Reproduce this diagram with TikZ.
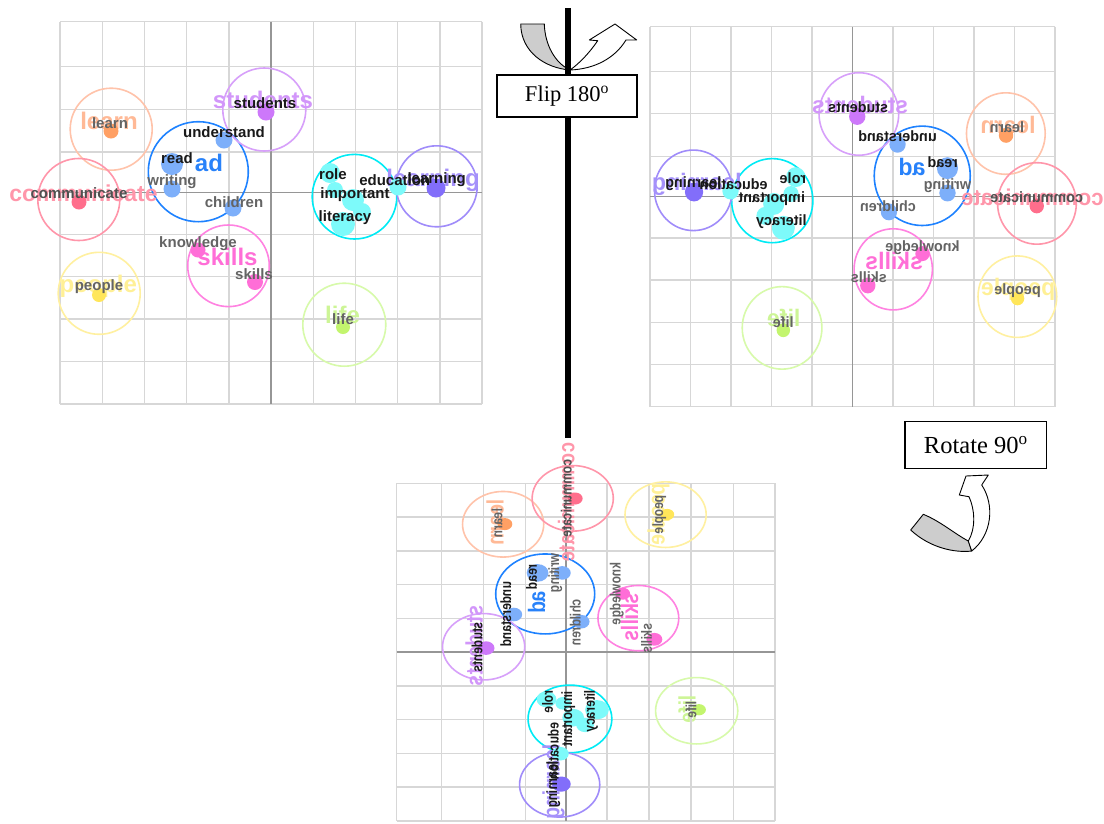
\documentclass[tikz,border=0pt]{standalone}
\usepackage{fontspec}
\setmainfont{Liberation Serif}
\newfontfamily\mapfont{Liberation Sans}
\definecolor{gridgray}{RGB}{215,215,215}
\definecolor{axisgray}{RGB}{150,150,150}
\definecolor{arrowgray}{RGB}{205,205,205}
\definecolor{learnC}{RGB}{255,195,170}
\definecolor{learnDot}{RGB}{255,160,100}
\definecolor{learnBig}{RGB}{255,185,150}
\definecolor{commC}{RGB}{255,150,170}
\definecolor{commDot}{RGB}{255,110,140}
\definecolor{commBig}{RGB}{255,150,170}
\definecolor{peopleC}{RGB}{255,240,160}
\definecolor{peopleDot}{RGB}{255,230,90}
\definecolor{peopleBig}{RGB}{255,240,150}
\definecolor{readC}{RGB}{30,130,255}
\definecolor{blueDot}{RGB}{125,175,250}
\definecolor{adBig}{RGB}{40,130,250}
\definecolor{studC}{RGB}{215,160,250}
\definecolor{studDot}{RGB}{205,120,250}
\definecolor{studBig}{RGB}{210,150,250}
\definecolor{cyanC}{RGB}{0,235,245}
\definecolor{cyanDot}{RGB}{125,250,250}
\definecolor{lrnC}{RGB}{160,140,250}
\definecolor{lrnDot}{RGB}{130,110,250}
\definecolor{lrnBig}{RGB}{165,145,250}
\definecolor{skillC}{RGB}{255,130,225}
\definecolor{skillDot}{RGB}{255,110,215}
\definecolor{skillBig}{RGB}{255,110,215}
\definecolor{lifeC}{RGB}{215,250,170}
\definecolor{lifeDot}{RGB}{195,245,110}
\definecolor{lifeBig}{RGB}{205,245,150}
\definecolor{wgray}{RGB}{100,100,100}
\definecolor{wblack}{RGB}{25,25,25}
\tikzset{
  gridln/.style={draw=gridgray, line width=1.4},
  axisln/.style={draw=axisgray, line width=1.4},
  ring/.style={line width=1.6},
  biglab/.style={font=\mapfont\bfseries\fontsize{24}{24}\selectfont, inner sep=0pt},
  smalllab/.style={font=\mapfont\bfseries\fontsize{15}{15}\selectfont, inner sep=0pt},
  labelbox/.style={draw=black, fill=white, line width=1.1, inner sep=0pt},
  arrowshape/.style={draw=black, line width=0.9, line join=round},
}
\newcommand{\drawmapbody}{%
  % grid
  \foreach \i in {0,1,2,3,4,6,7,8,9,10} {\draw[gridln] (42.2*\i,0) -- (42.2*\i,382.3);}
  \foreach \v in {0,45,87.6,130.3,212.6,255,297.3,340,382.3} {\draw[gridln] (0,\v) -- (422,\v);}
  \draw[axisln] (211,0) -- (211,382.3);
  \draw[axisln] (0,171) -- (422,171);
  % rings
  \draw[ring, learnC] (51.2,107.5) circle[radius=41pt];
  \draw[ring, commC] (18.8,177.8) circle[radius=41pt];
  \draw[ring, peopleC] (39.2,271.6) circle[radius=41pt];
  \draw[ring, readC] (138.3,150) circle[radius=50pt];
  \draw[ring, studC] (204.3,87.8) circle[radius=41.5pt];
  \draw[ring, cyanC] (294.5,175) circle[radius=42.3pt];
  \draw[ring, lrnC] (376.7,164.6) circle[radius=40.5pt];
  \draw[ring, skillC] (168.5,244.1) circle[radius=40.8pt];
  \draw[ring, lifeC] (284.3,303) circle[radius=41.5pt];
  % big labels
  \node[biglab, text=learnBig] (bl-learn) at (49,99.3) {learn};
  \node[biglab, text=commBig, font=\mapfont\bfseries\fontsize{23}{23}\selectfont] (bl-comm) at (23.5,171.3) {communicate};
  \node[biglab, text=peopleBig] (bl-people) at (38.3,264.3) {people};
  \node[biglab, text=adBig] (bl-ad) at (149,141.3) {ad};
  \node[biglab, text=studBig] (bl-stud) at (203,78.3) {students};
  \node[biglab, text=skillBig] (bl-skills) at (167.5,235.3) {skills};
  \node[biglab, text=lifeBig] (bl-life) at (282.5,293.3) {life};
  \node[biglab, text=lrnBig] (bl-lrn) at (373,158.3) {learning};
  % dots
  \fill[learnDot] (51,109.3) circle[radius=7.5pt];
  \fill[commDot] (19,180.3) circle[radius=7.5pt];
  \fill[peopleDot] (39,273.3) circle[radius=7pt];
  \fill[studDot] (206,90.3) circle[radius=8.5pt];
  \fill[blueDot] (164,118.3) circle[radius=8.5pt];
  \fill[blueDot] (112,142.3) circle[radius=11pt];
  \fill[blueDot] (112,167.3) circle[radius=8.5pt];
  \fill[blueDot] (173,186.3) circle[radius=8.5pt];
  \fill[skillDot] (138,228.3) circle[radius=7.5pt];
  \fill[skillDot] (195,260.3) circle[radius=8pt];
  \fill[lrnDot] (376,166.3) circle[radius=9.5pt];
  \fill[lifeDot] (283,305.3) circle[radius=7pt];
  \fill[cyanDot] (270,151.3) circle[radius=10pt];
  \fill[cyanDot] (275,168.3) circle[radius=8pt];
  \fill[cyanDot] (293,178.3) circle[radius=11pt];
  \fill[cyanDot] (283,202.3) circle[radius=12pt];
  \fill[cyanDot] (302,190.3) circle[radius=9pt];
  \fill[cyanDot] (338,165.3) circle[radius=8.5pt];
  % word labels
  \node[smalllab, text=wgray] (w-learn) at (50,101.3) {learn};
  \node[smalllab, text=wgray!80!black] (w-comm) at (19,171.3) {communicate};
  \node[smalllab, text=wgray] (w-people) at (39,265.3) {people};
  \node[smalllab, text=wblack] (w-stud) at (205,81.3) {students};
  \node[smalllab, text=wblack] (w-under) at (164,110.3) {understand};
  \node[smalllab, text=wblack] (w-read) at (117,136.3) {read};
  \node[smalllab, text=wgray] (w-writing) at (112,160.3) {writing};
  \node[smalllab, text=wgray] (w-children) at (174,180.3) {children};
  \node[smalllab, text=wgray] (w-know) at (138,222.3) {knowledge};
  \node[smalllab, text=wgray] (w-skills) at (194,252.3) {skills};
  \node[smalllab, text=wblack] (w-role) at (273,152.3) {role};
  \node[smalllab, text=wblack] (w-imp) at (295,173.3) {important};
  \node[smalllab, text=wblack] (w-lit) at (285,196.3) {literacy};
  \node[smalllab, text=wblack] (w-edu) at (334.7,158.3) {education};
  \node[smalllab, text=wblack] (w-lrn) at (376.7,158.3) {learning};
  \node[smalllab, text=wgray] (w-life) at (283,297.3) {life};
}
\begin{document}
\begin{tikzpicture}[x=1pt, y=-1pt]
  \useasboundingbox (0,0) rectangle (1104,823);
  \fill[white] (0,0) rectangle (1104,823);
  % original map
  \begin{scope}[cm={1,0,0,1,(60pt,-21.7pt)}, transform shape, name prefix=a-]
    \drawmapbody
  \end{scope}
  % flipped map
  \begin{scope}[cm={-0.96,0,0,0.994,(1055pt,-26.7pt)}, transform shape, name prefix=b-]
    \drawmapbody
  \end{scope}
  % rotated map
  \begin{scope}[cm={0,-0.8,-0.99,0,(396.7pt,-483.3pt)}, transform shape, name prefix=c-]
    \drawmapbody
  \end{scope}
  % flip arrow
  \filldraw[arrowshape, fill=arrowgray] (520.7,24) -- (544.3,24)
    .. controls (545,45) and (555,63) .. (570,70)
    .. controls (545,68) and (521,52) .. (520.7,24) -- cycle;
  \filldraw[arrowshape, fill=white] (570,70)
    .. controls (580,63) and (590,52) .. (597.7,40.7)
    -- (589.3,40) -- (615,24) -- (636.7,40) -- (626,40)
    .. controls (615,58) and (595,69) .. (570,70) -- cycle;
  % axis line
  \coordinate (ltop) at (568,8);
  \coordinate (lbot) at (568,438);
  \draw[line width=6] (ltop) -- (lbot);
  \node[labelbox, minimum width=140pt, minimum height=42pt, font=\fontsize{22.5}{22.5}\selectfont] (flipbox) at (567,96) {Flip 180\textsuperscript{o}};
  % rotate box and arrow
  \node[labelbox, minimum width=141.7pt, minimum height=47.3pt, font=\fontsize{24.5}{24.5}\selectfont] (rotbox) at (975.8,444.7) {Rotate 90\textsuperscript{o}};
  \filldraw[arrowshape, fill=arrowgray] (923.3,514.3)
    .. controls (940,521) and (955,534) .. (968.3,541)
    -- (971.7,551)
    .. controls (955,553) and (930,548) .. (910.7,530) -- cycle;
  \filldraw[arrowshape, fill=white] (968.3,541)
    .. controls (976,528) and (975,510) .. (969,496.7)
    -- (959.3,495) -- (966,476) -- (988.3,475) -- (981.7,485)
    .. controls (995,505) and (992,535) .. (971.7,551) -- cycle;
\end{tikzpicture}
\end{document}
